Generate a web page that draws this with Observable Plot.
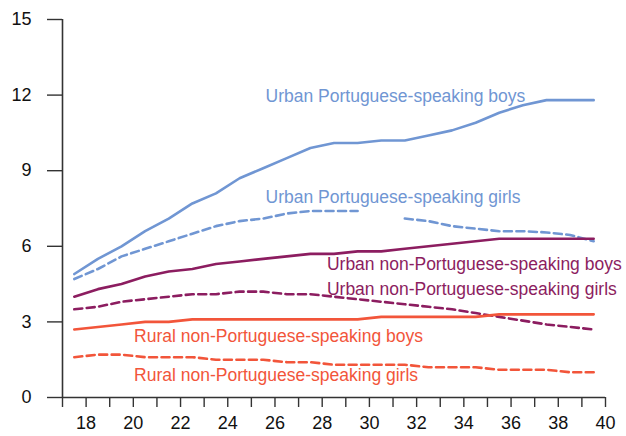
<!DOCTYPE html>
<html>
<head>
<meta charset="utf-8">
<script src="https://cdn.jsdelivr.net/npm/d3@7"></script>
<script src="https://cdn.jsdelivr.net/npm/@observablehq/plot@0.6"></script>
<style>
  html, body { margin: 0; padding: 0; background: #fff; }
  #chart svg { display: block; }
</style>
</head>
<body>
<div id="chart"></div>
<script>
// Ages (x positions of the observations)
const ages = [17.5, 18.5, 19.5, 20.5, 21.5, 22.5, 23.5, 24.5, 25.5, 26.5, 27.5, 28.5,
              29.5, 30.5, 31.5, 32.5, 33.5, 34.5, 35.5, 36.5, 37.5, 38.5, 39.5];

// Series values
const urbanPortBoys    = [4.9, 5.5, 6.0, 6.6, 7.1, 7.7, 8.1, 8.7, 9.1, 9.5, 9.9, 10.1,
                          10.1, 10.2, 10.2, 10.4, 10.6, 10.9, 11.3, 11.6, 11.8, 11.8, 11.8];
const urbanPortGirls   = [4.7, 5.1, 5.6, 5.9, 6.2, 6.5, 6.8, 7.0, 7.1, 7.3, 7.4, 7.4,
                          7.4, null, 7.1, 7.0, 6.8, 6.7, 6.6, 6.6, 6.55, 6.45, 6.2];
const urbanNonBoys     = [4.0, 4.3, 4.5, 4.8, 5.0, 5.1, 5.3, 5.4, 5.5, 5.6, 5.7, 5.7,
                          5.8, 5.8, 5.9, 6.0, 6.1, 6.2, 6.3, 6.3, 6.3, 6.3, 6.3];
const urbanNonGirls    = [3.5, 3.6, 3.8, 3.9, 4.0, 4.1, 4.1, 4.2, 4.2, 4.1, 4.1, 4.0,
                          3.9, 3.8, 3.7, 3.6, 3.5, 3.35, 3.2, 3.05, 2.9, 2.8, 2.7];
const ruralNonBoys     = [2.7, 2.8, 2.9, 3.0, 3.0, 3.1, 3.1, 3.1, 3.1, 3.1, 3.1, 3.1,
                          3.1, 3.2, 3.2, 3.2, 3.2, 3.2, 3.3, 3.3, 3.3, 3.3, 3.3];
const ruralNonGirls    = [1.6, 1.7, 1.7, 1.6, 1.6, 1.6, 1.5, 1.5, 1.5, 1.4, 1.4, 1.3,
                          1.3, 1.3, 1.3, 1.2, 1.2, 1.2, 1.1, 1.1, 1.1, 1.0, 1.0];

// Series names, colours, dash style
const seriesNames = [
  "Urban Portuguese-speaking boys",
  "Urban Portuguese-speaking girls",
  "Urban non-Portuguese-speaking boys",
  "Urban non-Portuguese-speaking girls",
  "Rural non-Portuguese-speaking boys",
  "Rural non-Portuguese-speaking girls"
];
const seriesValues = [urbanPortBoys, urbanPortGirls, urbanNonBoys, urbanNonGirls, ruralNonBoys, ruralNonGirls];
const seriesColors = ["#7096d3", "#7096d3", "#8c1d60", "#8c1d60", "#f2553a", "#f2553a"];
const seriesDashed = [false, true, false, true, false, true];

// Label anchor positions (in data units: age, value)
const labelAge   = [25.6, 25.6, 28.2, 28.2, 20.03, 20.03];
const labelValue = [11.95, 7.93, 5.3, 4.3, 2.41, 0.87];

// Axis ticks
const xTicks = d3.range(17, 41);
const yTicks = [0, 3, 6, 9, 12, 15];

const font = "'Liberation Sans', Arial, Helvetica, sans-serif";

const marks = [];
seriesNames.forEach((name, i) => {
  const rows = ages.map((a, j) => ({age: a, value: seriesValues[i][j]}));
  marks.push(Plot.line(rows, {
    x: "age", y: "value",
    stroke: seriesColors[i],
    strokeWidth: 2.6,
    strokeDasharray: seriesDashed[i] ? "8,4.5" : null,
    strokeLinejoin: "round"
  }));
});

const labels = seriesNames.map((name, i) => ({name, age: labelAge[i], value: labelValue[i], color: seriesColors[i]}));

const chart = Plot.plot({
  width: 626,
  height: 436,
  marginLeft: 62,
  marginRight: 21,
  marginTop: 19,
  marginBottom: 39,
  style: {fontFamily: font, background: "#fff"},
  x: {domain: [17, 40]},
  y: {domain: [0, 15]},
  marks: [
    Plot.axisY({ticks: yTicks, tickSize: 15, tickPadding: 16, fontSize: 18, label: null, stroke: "#333", strokeWidth: 1.4, fill: "#111"}),
    Plot.axisX({ticks: xTicks, tickSize: 10, tickPadding: 9, fontSize: 18, label: null,
      tickFormat: d => d % 2 === 0 ? String(d) : "", stroke: "#333", strokeWidth: 1.4, fill: "#111"}),
    Plot.ruleX([17], {y1: 0, y2: 15, stroke: "#333", strokeWidth: 1.6}),
    Plot.ruleY([0], {x1: 17, x2: 40, stroke: "#333", strokeWidth: 1.6}),
    ...marks,
    Plot.text(labels, {x: "age", y: "value", text: "name", fill: "color", textAnchor: "start",
      fontSize: 17.5, lineAnchor: "middle"})
  ]
});
document.getElementById("chart").appendChild(chart);
</script>
</body>
</html>
